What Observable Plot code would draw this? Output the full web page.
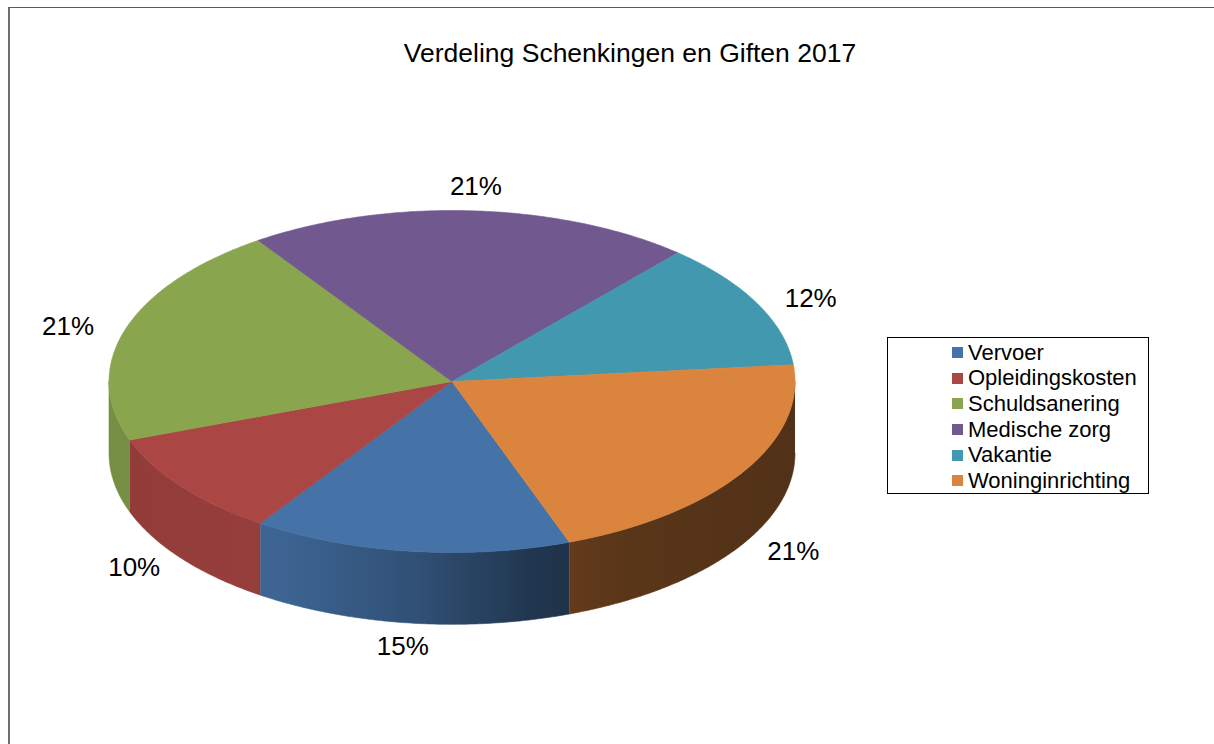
<!DOCTYPE html>
<html>
<head>
<meta charset="utf-8">
<script src="https://cdn.jsdelivr.net/npm/d3@7"></script>
<script src="https://cdn.jsdelivr.net/npm/@observablehq/plot@0.6"></script>
<style>
  html, body { margin: 0; padding: 0; background: #fff; }
  #wrap { position: relative; width: 1214px; height: 744px; overflow: hidden; background: #fff; font-family: "Liberation Sans", Arial, sans-serif; }
  #border { position: absolute; left: 8px; top: 7px; width: 1400px; height: 900px; border-top: 1.5px solid #5a5a5a; border-left: 2px solid #6e6e6e; }
  #title { position: absolute; left: 0; width: 1260px; top: 39.6px; text-align: center; font-size: 26.5px; line-height: 1; color: #000; white-space: nowrap; }
  #chart { position: absolute; left: 0; top: 0; }
  #legend { position: absolute; left: 887px; top: 337px; width: 262px; height: 157px; border: 1px solid #000; box-sizing: border-box; padding-top: 1.5px; padding-left: 64px; background: #fff; }
  .row { height: 25.7px; line-height: 25.7px; display: flex; align-items: center; font-size: 22px; color: #000; white-space: nowrap; }
  .sw { width: 11px; height: 11px; margin-right: 5px; flex: none; }
</style>
</head>
<body>
<div id="wrap">
  <div id="border"></div>
  <div id="chart"></div>
  <div id="title"></div>
  <div id="legend"></div>
</div>
<script>
// ---- data ----
const chartTitle = "Verdeling Schenkingen en Giften 2017";
const categories = ["Vervoer", "Opleidingskosten", "Schuldsanering", "Medische zorg", "Vakantie", "Woninginrichting"];
const shares = [15, 10, 21, 21, 12, 21];
const shareLabels = ["15%", "10%", "21%", "21%", "12%", "21%"];
const colors = ["#4572A7", "#AA4643", "#89A54E", "#71588F", "#4198AF", "#DB843D"];
const firstSliceAngle = 160; // degrees clockwise from 12 o'clock

// ---- geometry (unit pie, projected by x/y scales) ----
const DEPTH = 0.42;          // side height relative to vertical radius
const rad = a => a * Math.PI / 180;
const total = d3.sum(shares);
let acc = 0;
const slices = categories.map((name, i) => {
  const a1 = firstSliceAngle - 90 + acc / total * 360;
  acc += shares[i];
  const a2 = firstSliceAngle - 90 + acc / total * 360;
  return {name, i, a1, a2, label: shareLabels[i], color: colors[i]};
});
function arc(a1, a2, step = 0.5) {
  const out = [];
  const n = Math.max(1, Math.ceil((a2 - a1) / step));
  for (let k = 0; k <= n; k++) out.push(a1 + (a2 - a1) * k / n);
  return out;
}
const topPts = [];
for (const s of slices) {
  topPts.push({name: s.name, x: 0, y: 0});
  for (const a of arc(s.a1, s.a2)) topPts.push({name: s.name, x: Math.cos(rad(a)), y: -Math.sin(rad(a))});
  topPts.push({name: s.name, x: 0, y: 0});
}
const sides = [];
for (const s of slices) {
  for (const base of [0, 360]) {
    const lo = Math.max(s.a1, base), hi = Math.min(s.a2, base + 180);
    if (lo < hi) {
      const pts = [];
      for (const a of arc(lo, hi)) pts.push({x: Math.cos(rad(a)), y: -Math.sin(rad(a))});
      for (const a of arc(lo, hi).reverse()) pts.push({x: Math.cos(rad(a)), y: -Math.sin(rad(a)) - DEPTH});
      sides.push({i: s.i, pts});
    }
  }
}

// layout
const W = 1214, H = 744;
const mL = 108.5, mR = 419.5, mT = 210, mB = 192;
const pxX = (W - mL - mR) / 2, pxY = (H - mT - mB) / 2;
const labelPts = slices.map(s => {
  const m = rad((s.a1 + s.a2) / 2);
  const c = Math.cos(m), sn = Math.sin(m);
  const x = 1.1 * c + 26 * c / pxX;
  const y = -(1.0 * sn + 24 * sn * Math.abs(sn) / pxY) - (sn > 0 ? DEPTH : 0);
  return {x, y, label: s.label};
});

const marks = [];
for (const sd of sides) {
  marks.push(Plot.line(sd.pts, {x: "x", y: "y", fill: `url(#side${sd.i})`, stroke: `url(#side${sd.i})`, strokeWidth: 0.6, curve: "linear"}));
}
marks.push(Plot.line(topPts, {x: "x", y: "y", z: "name", fill: "name", stroke: "name", strokeWidth: 0.6, curve: "linear"}));
marks.push(Plot.text(labelPts, {x: "x", y: "y", text: "label", fontSize: 26, fill: "#000", fontFamily: "Liberation Sans, Arial, sans-serif"}));

const plot = Plot.plot({
  width: W, height: H,
  marginLeft: mL, marginRight: mR, marginTop: mT, marginBottom: mB,
  x: {domain: [-1, 1], axis: null},
  y: {domain: [-1, 1], axis: null},
  color: {domain: categories, range: colors},
  style: {background: "transparent", overflow: "visible"},
  marks
});

// side gradients (lighting), spanning the pie's horizontal extent
const gx0 = plot.scale("x").apply(-1), gx1 = plot.scale("x").apply(1);
const stops = [[0, 0.86], [0.25, 0.88], [0.45, 0.7], [0.62, 0.47], [0.75, 0.41], [1, 0.37]];
const defs = d3.select(plot).insert("defs", ":first-child");
for (const s of slices) {
  const g = defs.append("linearGradient").attr("id", "side" + s.i)
    .attr("gradientUnits", "userSpaceOnUse")
    .attr("x1", gx0).attr("x2", gx1).attr("y1", 0).attr("y2", 0);
  const base = d3.rgb(s.color);
  for (const [o, f] of stops) {
    g.append("stop").attr("offset", o).attr("stop-color", d3.rgb(base.r * f, base.g * f, base.b * f).formatHex());
  }
}
document.getElementById("chart").appendChild(plot);
document.getElementById("title").textContent = chartTitle;

// legend
const lg = document.getElementById("legend");
categories.forEach((c, i) => {
  const row = document.createElement("div");
  row.className = "row";
  const sw = document.createElement("span");
  sw.className = "sw";
  sw.style.background = colors[i];
  row.appendChild(sw);
  row.appendChild(document.createTextNode(c));
  lg.appendChild(row);
});
</script>
</body>
</html>
